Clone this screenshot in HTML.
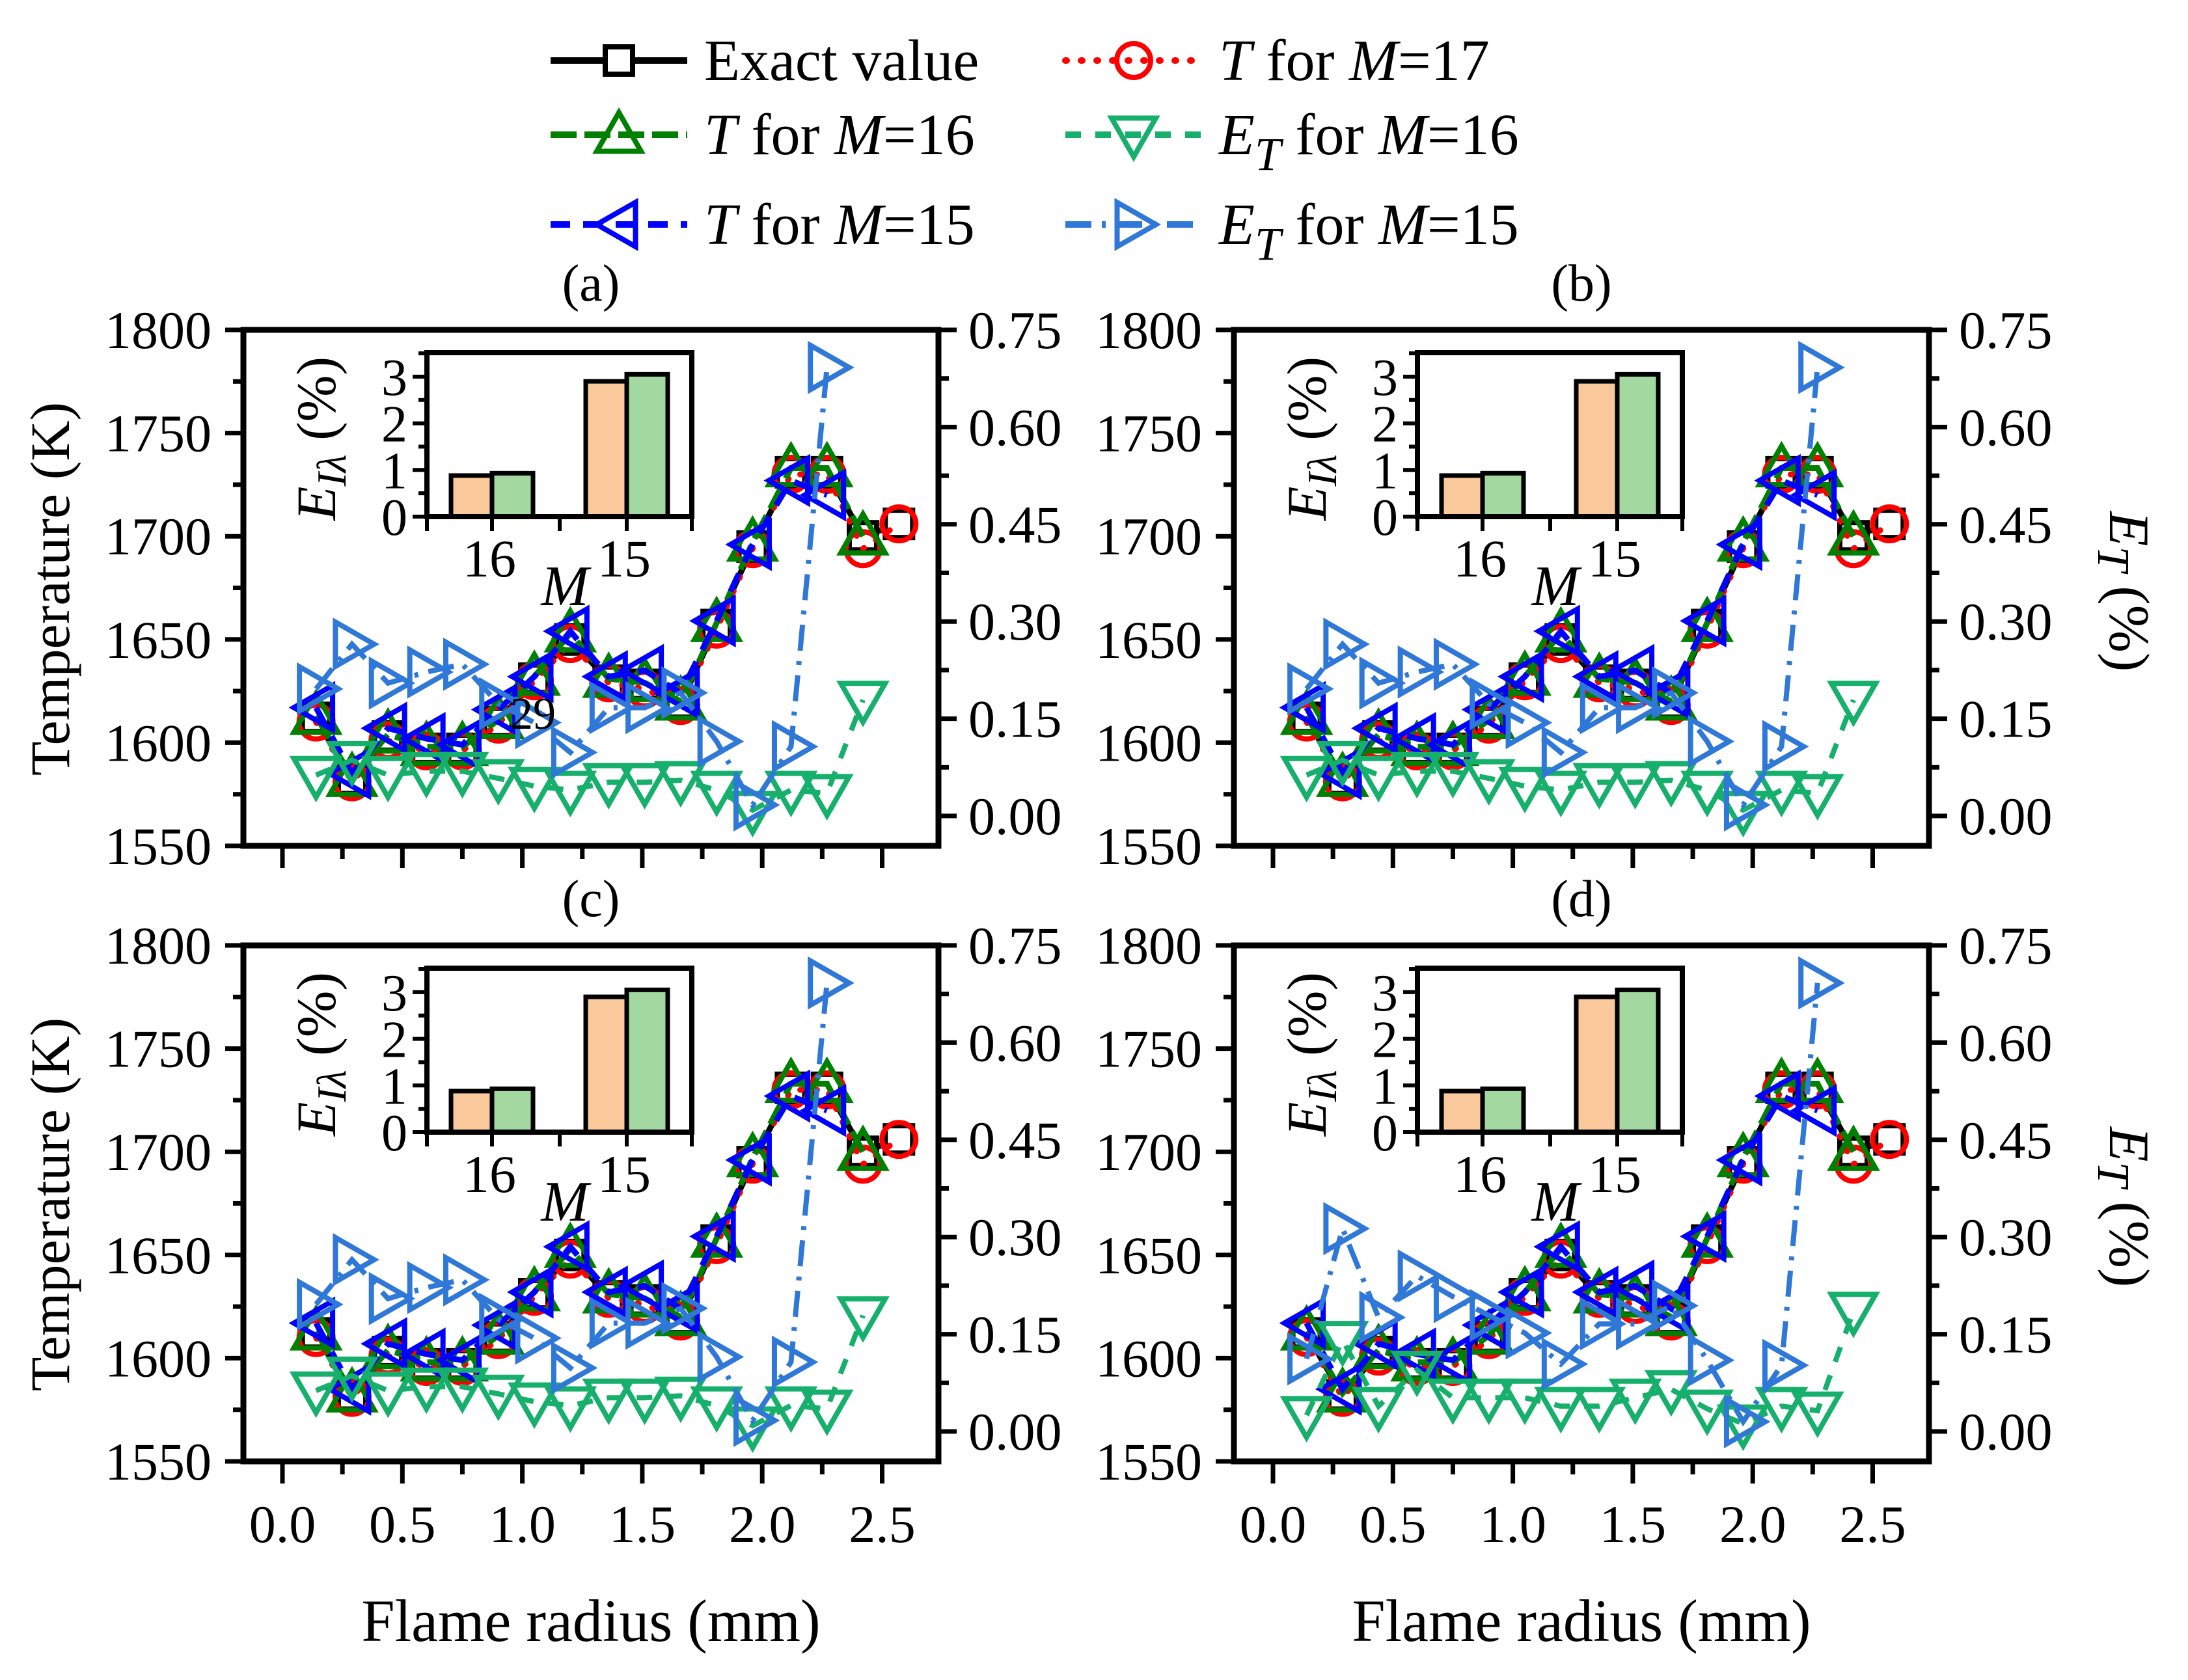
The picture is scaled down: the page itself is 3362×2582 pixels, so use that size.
<!DOCTYPE html>
<html><head><meta charset="utf-8"><style>
html,body{margin:0;padding:0;background:#fff;}
svg{display:block;}
text{font-family:"Liberation Serif","DejaVu Serif",serif;fill:#000;}
</style></head><body>
<svg id="fig" xmlns="http://www.w3.org/2000/svg" width="3362" height="2582" viewBox="0 0 3362 2582">
<g id="legend"></g>
<g id="panels"></g>
</svg>
<script>
// ---- data ----
const radius = [0.14,0.29,0.44,0.60,0.75,0.90,1.05,1.20,1.36,1.51,1.66,1.81,1.96,2.12,2.27,2.42,2.57];
const tempExact = [1612,1582,1603,1597,1597,1610,1631,1650,1630,1628,1619,1657,1695,1731,1731,1700,1706];
const tempM17 = [1610,1581,1601,1596,1596,1609,1630,1648,1629,1626,1618,1655,1694,1730,1730,1694,1706];
const tempM16 = [1613,1583,1604,1598,1598,1611,1632,1653,1631,1629,1620,1658,1697,1733,1733,1700];
const tempM15 = [1617,1585,1607,1602,1599,1616,1632,1654,1632,1635,1624,1659,1696,1727,1720];
const errM16abc = [0.063,0.086,0.063,0.069,0.069,0.058,0.046,0.040,0.052,0.052,0.055,0.040,0.009,0.040,0.035,0.179];
const errM15abc = [0.196,0.265,0.205,0.222,0.234,0.173,0.144,0.098,0.167,0.167,0.190,0.115,0.017,0.107,0.692];
const errM16d = [0.025,0.141,0.039,0.095,0.052,0.052,0.052,0.039,0.039,0.052,0.065,0.035,0.012,0.039,0.032,0.186];
const errM15d = [0.112,0.313,0.176,0.240,0.208,0.179,0.152,0.104,0.166,0.166,0.194,0.110,0.015,0.102,0.692];
const insetCats = ["16","15"];
const insetOrange = [0.88,2.90];
const insetGreen = [0.93,3.05];
const tempTicks = [1550,1600,1650,1700,1750,1800];
const errTicks = ["0.00","0.15","0.30","0.45","0.60","0.75"];
const radiusTicks = ["0.0","0.5","1.0","1.5","2.0","2.5"];
const insetTicks = [0,1,2,3];

const NS="http://www.w3.org/2000/svg";
function mk(tag,attrs,parent,txt){const e=document.createElementNS(NS,tag);for(const k in attrs)e.setAttribute(k,attrs[k]);if(txt!=null)e.textContent=txt;if(parent)parent.appendChild(e);return e;}

function marker(g,type,cx,cy,color){
  let e;
  const s=34;
  if(type==='sq'){e=mk('rect',{x:cx-21,y:cy-21,width:42,height:42,fill:'#fff',stroke:color,'stroke-width':8},g);}
  else if(type==='circ'){e=mk('circle',{cx:cx,cy:cy,r:26,fill:'none',stroke:color,'stroke-width':8},g);}
  else {
    let p;
    if(type==='up')p=[[cx,cy-s],[cx-s,cy+s*0.75],[cx+s,cy+s*0.75]];
    if(type==='down')p=[[cx,cy+s],[cx-s,cy-s*0.75],[cx+s,cy-s*0.75]];
    if(type==='left')p=[[cx-s,cy],[cx+s*0.75,cy-s],[cx+s*0.75,cy+s]];
    if(type==='right')p=[[cx+s,cy],[cx-s*0.75,cy-s],[cx-s*0.75,cy+s]];
    e=mk('polygon',{points:p.map(q=>q.join(',')).join(' '),fill:'none',stroke:color,'stroke-width':8,'stroke-linejoin':'miter'},g);
  }
  
  
}

function panel(id,dx,dy,e16,e15,showX,showRightTitle,showArtifact){
  const root=document.getElementById('panels');
  const g=mk('g',{},root);
  
  
  const L=374+dx,R=1442+dx,T=507+dy,B=1300+dy;
  const x0=434+dx, xs=368.6;
  const X=v=>x0+v*xs;
  const YT=v=>T+(1800-v)*(B-T)/250;
  const E0=1254+dy;
  const YE=v=>E0-v*(E0-T)/0.75;
  const lab=mk('text',{x:908+dx,y:462+dy,'font-size':80,'text-anchor':'middle'},g,'('+id+')');
  
  
  const series=[
    {y:tempExact,ax:YT,c:'#000',dash:'',m:'sq',w:9,n:'exact-value-series'},
    {y:tempM17,ax:YT,c:'#ff0000',dash:'2 22',m:'circ',w:9,n:'t-m17-series'},
    {y:tempM16,ax:YT,c:'#008000',dash:'40 12',m:'up',w:9,n:'t-m16-series'},
    {y:tempM15,ax:YT,c:'#0000ff',dash:'30 20',m:'left',w:9,n:'t-m15-series'},
    {y:e16,ax:YE,c:'#16b06c',dash:'24 22',m:'down',w:8,n:'et-m16-series'},
    {y:e15,ax:YE,c:'#2f78d8',dash:'40 16 6 16',m:'right',w:8,n:'et-m15-series'}
  ];
  series.forEach(s=>{
    const sg=mk('g',{},g);
    
    
    const pts=s.y.map((v,i)=>[X(radius[i]),s.ax(v)]);
    const pl=mk('polyline',{points:pts.map(p=>p.join(',')).join(' '),fill:'none',stroke:s.c,'stroke-width':s.w,'stroke-dasharray':s.dash,'stroke-linecap':s.dash.startsWith('2 ')?'round':'butt'},sg);
    
    
    pts.forEach(p=>marker(sg,s.m,p[0],p[1],s.c));
  });
  if(showArtifact){const a=mk('text',{x:819+dx,y:1120+dy,'font-size':70,'text-anchor':'middle'},g,'29');}
  const fr=mk('rect',{x:L,y:T,width:R-L,height:B-T,fill:'none',stroke:'#000','stroke-width':9},g);
  
  
  const la=mk('g',{},g);
  
  
  for(let v=1550;v<=1800;v+=25){const maj=(v%50===0);mk('line',{x1:L,x2:L-(maj?28:16),y1:YT(v),y2:YT(v),stroke:'#000','stroke-width':7},la);}
  tempTicks.forEach(v=>{mk('text',{x:325+dx,y:YT(v)+28,'font-size':82,'text-anchor':'end'},la,String(v));});
  const ra=mk('g',{},g);
  
  
  for(let k=-0.075;k<=0.76;k+=0.075){const maj=Math.abs(Math.round(k/0.15)*0.15-k)<1e-6;const y=YE(k);if(y>B)continue;mk('line',{x1:R,x2:R+(maj?28:16),y1:y,y2:y,stroke:'#000','stroke-width':7},ra);}
  errTicks.forEach(t=>{mk('text',{x:R+46,y:YE(parseFloat(t))+28,'font-size':82},ra,t);});
  const ba=mk('g',{},g);
  
  
  for(let k=0;k<=10;k++){const maj=k%2===0;mk('line',{x1:X(k*0.25),x2:X(k*0.25),y1:B,y2:B+(maj?34:20),stroke:'#000','stroke-width':7},ba);}
  if(showX){
    radiusTicks.forEach(t=>{mk('text',{x:X(parseFloat(t)),y:B+124,'font-size':82,'text-anchor':'middle'},ba,t);});
    const xt=mk('text',{x:908+dx,y:2522,'font-size':92,'text-anchor':'middle'},g,'Flame radius (mm)');
    
    
  }
  if(dx===0){
    const yt=mk('text',{x:0,y:0,'font-size':86,'text-anchor':'middle',transform:'translate(106,'+(905+dy)+') rotate(-90)'},g,'Temperature (K)');
    
    
  }
  if(showRightTitle){
    const rt=mk('text',{x:0,y:0,'font-size':88,'text-anchor':'middle',transform:'translate(3242,'+(909+dy)+') rotate(90)'},g);
    
    
    mk('tspan',{'font-style':'italic'},rt,'E');
    mk('tspan',{'font-style':'italic','font-size':70,dy:18},rt,'T');
    mk('tspan',{dy:-18},rt,' (%)');
  }
  const ig=mk('g',{},g);
  
  
  const iL=656+dx,iR=1063+dx,iT=542+dy,iB=794+dy;
  const IY=v=>iB-v*71.7;
  const catX=[756+dx,963+dx];
  insetCats.forEach((c,i)=>{
    const b1=mk('rect',{x:catX[i]-63,y:IY(insetOrange[i]),width:63,height:iB-IY(insetOrange[i]),fill:'#f9c99b',stroke:'#000','stroke-width':7},ig);
    
    
    const b2=mk('rect',{x:catX[i],y:IY(insetGreen[i]),width:63,height:iB-IY(insetGreen[i]),fill:'#a3d9a0',stroke:'#000','stroke-width':7},ig);
    
    
    mk('text',{x:catX[i]-4,y:iB+92,'font-size':82,'text-anchor':'middle'},ig,c);
  });
  mk('rect',{x:iL,y:iT,width:iR-iL,height:iB-iT,fill:'none',stroke:'#000','stroke-width':8},ig);
  for(let v=0;v<=3.5;v+=0.5){const maj=Number.isInteger(v);mk('line',{x1:iL,x2:iL-(maj?22:13),y1:IY(v),y2:IY(v),stroke:'#000','stroke-width':6},ig);}
  insetTicks.forEach(v=>mk('text',{x:iL-30,y:IY(v)+28,'font-size':80,'text-anchor':'end'},ig,String(v)));
  [iL,756+dx,860+dx,963+dx,iR].forEach(x=>mk('line',{x1:x,x2:x,y1:iB,y2:iB+22,stroke:'#000','stroke-width':6},ig));
  mk('text',{x:868+dx,y:930+dy,'font-size':88,'font-style':'italic','text-anchor':'middle'},ig,'M');
  const il=mk('text',{x:0,y:0,'font-size':86,'text-anchor':'middle',transform:'translate('+(515+dx)+','+(674+dy)+') rotate(-90)'},ig);
  mk('tspan',{'font-style':'italic'},il,'E');
  mk('tspan',{'font-style':'italic','font-size':64,dy:16},il,'Iλ');
  mk('tspan',{dy:-16},il,' (%)');
}

panel('a',0,0,errM16abc,errM15abc,false,false,true);
panel('b',1522,0,errM16abc,errM15abc,false,true,false);
panel('c',0,946,errM16abc,errM15abc,true,false,false);
panel('d',1522,946,errM16d,errM15d,true,true,false);

const lg=document.getElementById('legend');
const entries=[
  {x:846,y:123,c:'#000',dash:'',m:'sq',label:[['Exact value','']],n:'legend-exact-value'},
  {x:1637,y:123,c:'#ff0000',dash:'2 22',m:'circ',label:[['T','i'],[' for  ',''],['M','i'],['=17','']],n:'legend-t-m17'},
  {x:846,y:237,c:'#008000',dash:'40 12',m:'up',label:[['T','i'],[' for ',''],['M','i'],['=16','']],n:'legend-t-m16'},
  {x:1637,y:237,c:'#16b06c',dash:'24 22',m:'down',label:[['E','i'],['T','s'],[' for ',''],['M','i'],['=16','']],n:'legend-et-m16'},
  {x:846,y:375,c:'#0000ff',dash:'30 20',m:'left',label:[['T','i'],[' for ',''],['M','i'],['=15','']],n:'legend-t-m15'},
  {x:1637,y:375,c:'#2f78d8',dash:'40 16 6 16',m:'right',label:[['E','i'],['T','s'],[' for ',''],['M','i'],['=15','']],n:'legend-et-m15'}
];
entries.forEach(en=>{
  const g=mk('g',{},lg);
  
  
  const ly=en.y-30;
  mk('line',{x1:en.x,x2:en.x+210,y1:ly,y2:ly,stroke:en.c,'stroke-width':10,'stroke-dasharray':en.dash,'stroke-linecap':en.dash.startsWith('2 ')?'round':'butt'},g);
  marker(g,en.m,en.x+105,ly,en.c);
  const t=mk('text',{x:en.x+236,y:en.y,'font-size':90},g);
  let sub=false;
  en.label.forEach(([s,st])=>{
    const a={};
    if(st==='i')a['font-style']='italic';
    if(st==='s'){a['font-style']='italic';a['font-size']=72;a.dy=24;sub=true;}
    else if(sub){a.dy=-24;sub=false;}
    mk('tspan',a,t,s);
  });
});
</script>
</body></html>
